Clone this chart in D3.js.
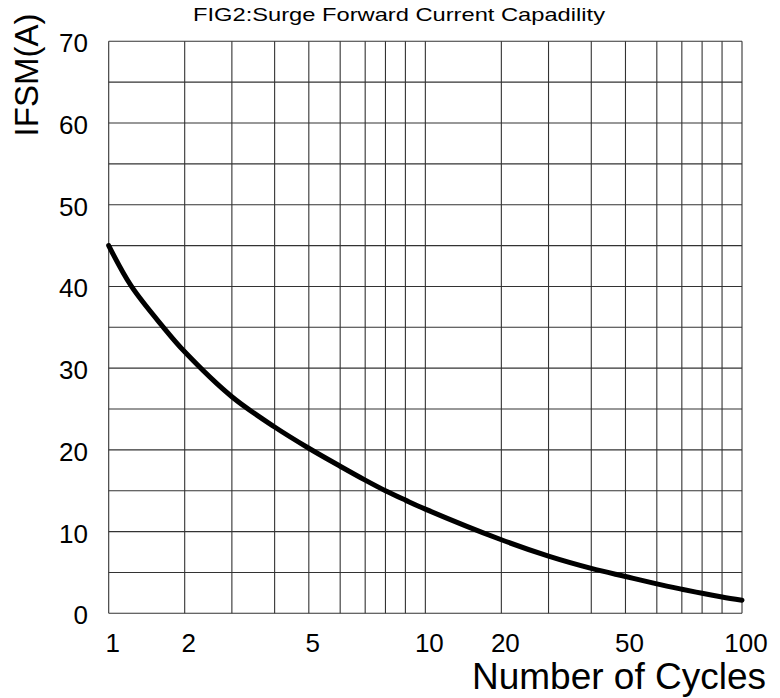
<!DOCTYPE html>
<html>
<head>
<meta charset="utf-8">
<script src="https://cdn.jsdelivr.net/npm/d3@7"></script>
<style>
  html, body { margin: 0; padding: 0; background: #fff; }
  text { font-family: "Liberation Sans", Arial, sans-serif; fill: #000; }
</style>
</head>
<body>
<svg id="chart" width="780" height="698"></svg>
<script>
// ---- data ----
const cycles = [1, 1.3, 1.72, 2, 3, 4, 5, 6, 7, 8, 9, 10, 20, 30, 40, 50, 60, 70, 80, 90, 100];
const ifsm   = [45, 40, 35, 32, 26.5, 22.8, 20.2, 18.0, 16.3, 15.0, 13.85, 12.75, 9.0, 7.0, 5.5, 4.5, 3.6, 2.95, 2.45, 2.0, 1.6];
const xTickLabels = [1, 2, 5, 10, 20, 50, 100];
const yTickLabels = [0, 10, 20, 30, 40, 50, 60, 70];
const xGridValues = [1, 2, 3, 4, 5, 6, 7, 8, 9, 10, 20, 30, 40, 50, 60, 70, 80, 90, 100];
const yGridValues = [0, 5, 10, 15, 20, 25, 30, 35, 40, 45, 50, 55, 60, 65, 70];
const chartTitle = "FIG2:Surge Forward Current Capadility";
const xTitle = "Number of Cycles";
const yTitle = "IFSM(A)";

// ---- layout ----
const plotLeft = 108.7, plotRight = 742, plotTop = 41.3, plotBottom = 613.3;
const decadeW = (plotRight - plotLeft) / 2;
// position of 1..10 within one decade of the chart paper (as printed)
const decadeFrac = [0, 0.240, 0.389, 0.524, 0.632, 0.731, 0.810, 0.874, 0.937, 1];

const xDomain = [], xRange = [];
for (let d = 0; d < 2; d++) {
  for (let i = (d === 0 ? 0 : 1); i < 10; i++) {
    xDomain.push((i + 1) * Math.pow(10, d));
    xRange.push(plotLeft + decadeW * (d + decadeFrac[i]));
  }
}
xDomain.push(100); xRange.push(plotRight);

const x = d3.scaleLinear().domain(xDomain).range(xRange);
const y = d3.scaleLinear().domain([0, 70]).range([plotBottom, plotTop]);

const svg = d3.select("#chart");

// grid
const grid = svg.append("g");
grid.selectAll("line.v").data(xGridValues).join("line")
  .attr("class", "v")
  .attr("x1", d => x(d)).attr("x2", d => x(d))
  .attr("y1", plotTop).attr("y2", plotBottom)
  .attr("stroke", "#333").attr("stroke-width", 1.1);
grid.selectAll("line.h").data(yGridValues).join("line")
  .attr("class", "h")
  .attr("x1", plotLeft).attr("x2", plotRight)
  .attr("y1", d => y(d)).attr("y2", d => y(d))
  .attr("stroke", "#333").attr("stroke-width", 1.1);

// curve
const pts = cycles.map((c, i) => [c, ifsm[i]]);
svg.append("path")
  .datum(pts)
  .attr("fill", "none")
  .attr("stroke", "#000")
  .attr("stroke-width", 5)
  .attr("stroke-linecap", "round")
  .attr("d", d3.line().x(d => x(d[0])).y(d => y(d[1])).curve(d3.curveCatmullRom.alpha(0.5)));

// x tick labels
svg.append("g").selectAll("text").data(xTickLabels).join("text")
  .attr("x", d => x(d) + 4)
  .attr("y", 652)
  .attr("text-anchor", "middle")
  .attr("font-size", 26)
  .text(d => d);

// y tick labels
svg.append("g").selectAll("text").data(yTickLabels).join("text")
  .attr("x", 88)
  .attr("y", d => y(d) + 11)
  .attr("text-anchor", "end")
  .attr("font-size", 26)
  .text(d => d);

// titles
svg.append("text")
  .attr("x", 193).attr("y", 21)
  .attr("font-size", 19)
  .attr("textLength", 412)
  .attr("lengthAdjust", "spacingAndGlyphs")
  .text(chartTitle);

svg.append("text")
  .attr("x", 766).attr("y", 689)
  .attr("text-anchor", "end")
  .attr("font-size", 37)
  .text(xTitle);

svg.append("text")
  .attr("transform", "translate(38,75) rotate(-90)")
  .attr("text-anchor", "middle")
  .attr("font-size", 33)
  .text(yTitle);
</script>
</body>
</html>
